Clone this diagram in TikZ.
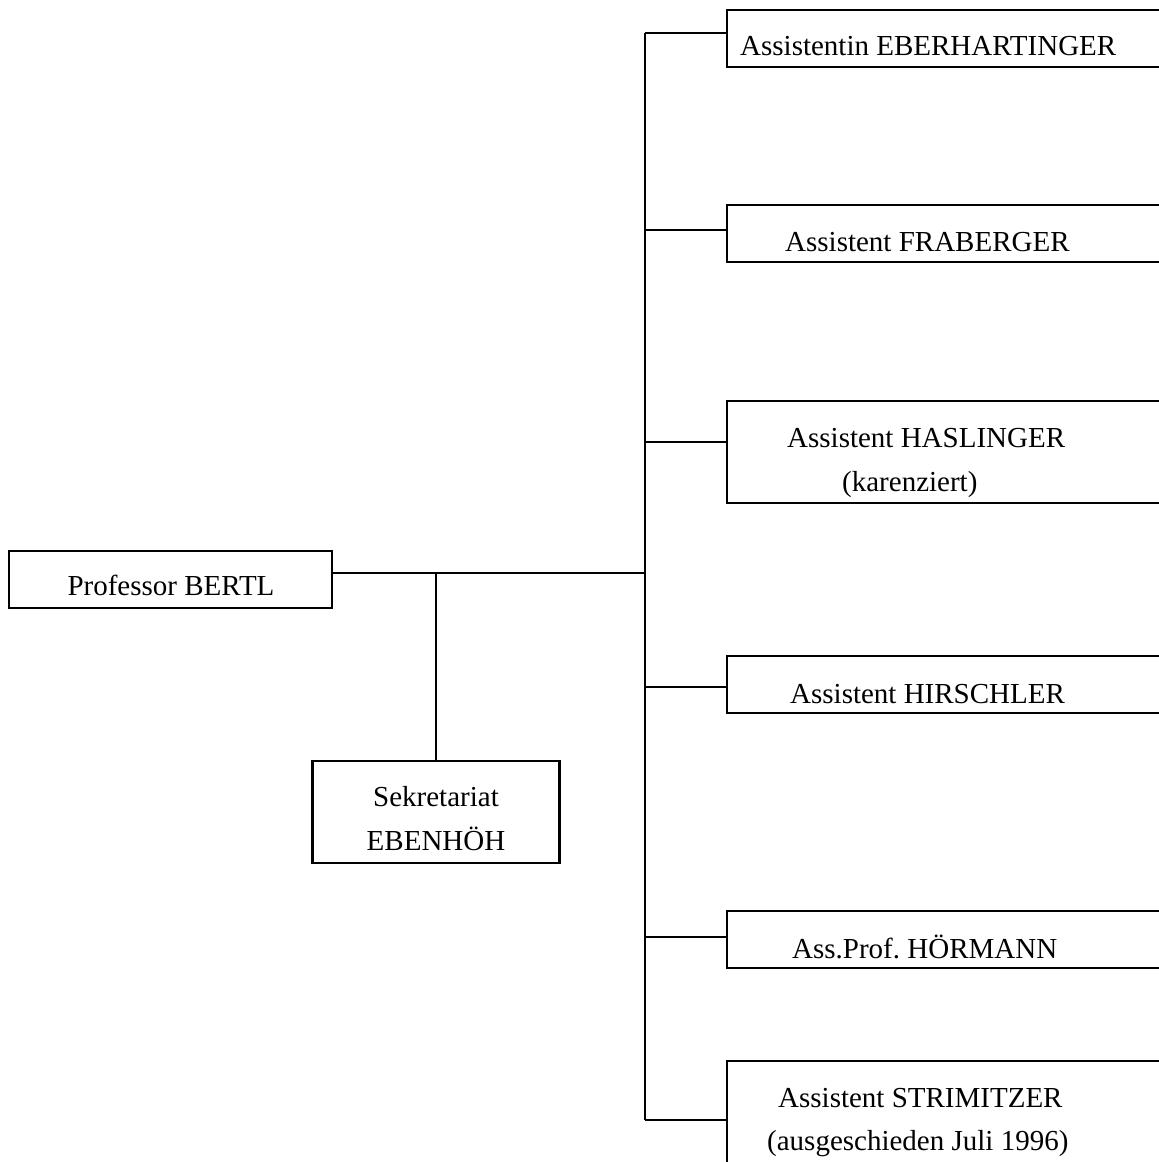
\documentclass[tikz,border=0pt]{standalone}
\usepackage{fontspec}
\setmainfont{Liberation Serif}
\frenchspacing
\begin{document}
\begin{tikzpicture}[x=1pt,y=-1pt,
  orgbox/.style={draw=black,line width=2.6pt,fill=white,inner sep=0pt,rectangle},
  conn/.style={draw=black,line width=2.5pt},
  lbl/.style={inner sep=0pt,anchor=base west,font=\fontsize{29pt}{44pt}\selectfont},
  clbl/.style={inner sep=0pt,anchor=base,font=\fontsize{29pt}{44pt}\selectfont}]
\useasboundingbox (0,0) rectangle (1159,1162);
\clip (0,0) rectangle (1159,1162);
% coordinates of the bus and junctions
\coordinate (j0) at (645,573);
\coordinate (bt) at (645,33);
\coordinate (bb) at (645,1120);
\coordinate (b1) at (645,33);
\coordinate (b2) at (645,230);
\coordinate (b3) at (645,442);
\coordinate (b4) at (645,687);
\coordinate (b5) at (645,937);
\coordinate (b6) at (645,1120);
\coordinate (js) at (436,573);
% boxes
\node[orgbox,minimum width=323pt,minimum height=57pt] (prof) at (170.5,579.5) {};
\node[orgbox,minimum width=247pt,minimum height=102pt] (sek) at (436,812) {};
\node[orgbox,minimum width=460pt,minimum height=57pt] (r1) at (957,38.5) {};
\node[orgbox,minimum width=460pt,minimum height=57pt] (r2) at (957,233.5) {};
\node[orgbox,minimum width=460pt,minimum height=102pt] (r3) at (957,452) {};
\node[orgbox,minimum width=460pt,minimum height=57pt] (r4) at (957,684.5) {};
\node[orgbox,minimum width=460pt,minimum height=57pt] (r5) at (957,939.5) {};
\node[orgbox,minimum width=460pt,minimum height=130pt] (r6) at (957,1126) {};
% texts
\node[clbl] (tprof) at (171,595) {Professor BERTL};
\node[clbl] (tsek1) at (436,806) {Sekretariat};
\node[clbl] (tsek2) at (436,850) {EBENHÖH};
\node[lbl] (t1) at (740,55) {Assistentin EBERHARTINGER};
\node[lbl] (t2) at (785,251) {Assistent FRABERGER};
\node[lbl] (t3a) at (787,447) {Assistent HASLINGER};
\node[lbl] (t3b) at (842,491) {(karenziert)};
\node[lbl] (t4) at (790,703) {Assistent HIRSCHLER};
\node[lbl] (t5) at (792,958) {Ass.Prof. HÖRMANN};
\node[lbl] (t6a) at (778,1107) {Assistent STRIMITZER};
\node[lbl] (t6b) at (767,1150) {(ausgeschieden Juli 1996)};
% connectors
\draw[conn] (prof.east |- j0) -- (j0);
\draw[conn] (js) -- (sek.north);
\draw[conn] (bt) -- (bb);
\draw[conn] (b1) -- (r1.west |- b1);
\draw[conn] (b2) -- (r2.west |- b2);
\draw[conn] (b3) -- (r3.west |- b3);
\draw[conn] (b4) -- (r4.west |- b4);
\draw[conn] (b5) -- (r5.west |- b5);
\draw[conn] (b6) -- (r6.west |- b6);
\end{tikzpicture}
\end{document}
